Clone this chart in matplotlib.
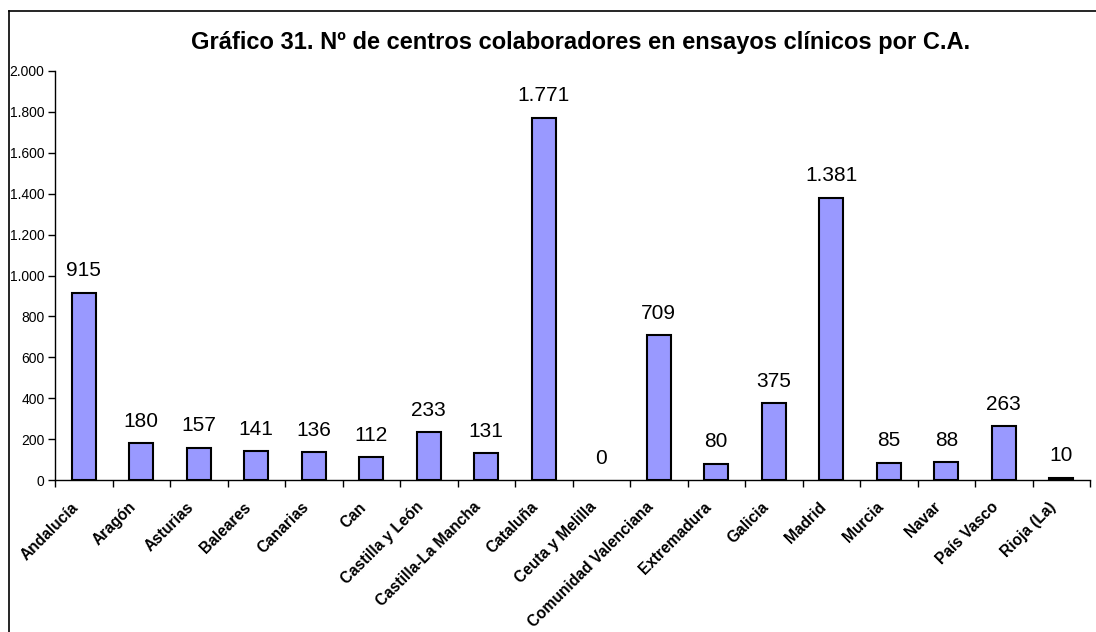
import matplotlib
matplotlib.use("Agg")
import matplotlib.pyplot as plt
from matplotlib.lines import Line2D
from matplotlib.ticker import FuncFormatter, MultipleLocator
from matplotlib.transforms import ScaledTranslation

regions = ['Andalucía', 'Aragón', 'Asturias', 'Baleares', 'Canarias', 'Can',
           'Castilla y León', 'Castilla-La Mancha', 'Cataluña', 'Ceuta y Melilla',
           'Comunidad Valenciana', 'Extremadura', 'Galicia', 'Madrid', 'Murcia',
           'Navar', 'País Vasco', 'Rioja (La)']
centres = [915, 180, 157, 141, 136, 112, 233, 131, 1771, 0,
           709, 80, 375, 1381, 85, 88, 263, 10]
title = 'Gráfico 31. Nº de centros colaboradores en ensayos clínicos por C.A.'

plt.rcParams['font.family'] = ['Liberation Sans', 'DejaVu Sans']

W, H = 1096, 632
fig = plt.figure(figsize=(W / 100, H / 100), dpi=100)
ax = fig.add_axes([55 / W, 1 - 480 / H, (1090 - 55) / W, (480 - 71) / H])

x = list(range(len(regions)))
widths = [0 if v == 0 else 1.5 for v in centres]
ax.bar(x, centres, width=0.42, color='#9999ff', edgecolor='black',
       linewidth=widths, zorder=3)

for xi, v in zip(x, centres):
    ax.annotate(f'{v:,}'.replace(',', '.'), (xi, v), xytext=(0, 9),
                textcoords='offset points', ha='center', va='bottom',
                fontsize=15)

ax.set_xlim(-0.5, len(regions) - 0.5)
ax.set_ylim(0, 2000)
ax.yaxis.set_major_locator(MultipleLocator(200))
ax.yaxis.set_major_formatter(FuncFormatter(lambda v, p: f'{int(v):,}'.replace(',', '.')))
ax.tick_params(axis='y', labelsize=10, length=5, width=1, direction='out', pad=2.5)

ax.set_xticks(x)
ax.set_xticklabels(regions, rotation=45, ha='right', rotation_mode='anchor',
                   fontsize=11.2, fontweight='bold')
ax.set_xticks([i - 0.5 for i in range(len(regions) + 1)], minor=True)
ax.tick_params(axis='x', which='major', length=0, pad=14)
ax.tick_params(axis='x', which='minor', length=5, width=1, direction='out')

# excel puts the end of the rotated label a bit left of the bar
shift = ScaledTranslation(-13 / 100, 0, fig.dpi_scale_trans)
for lbl in ax.get_xticklabels():
    lbl.set_transform(lbl.get_transform() + shift)

for s in ['top', 'right']:
    ax.spines[s].set_visible(False)
ax.spines['left'].set_linewidth(1)
ax.spines['bottom'].set_linewidth(1)

fig.text(581 / W, 1 - 43 / H, title, ha='center', va='center',
         fontsize=17, fontweight='bold')

# chart frame, it runs off the right and bottom edge
fig.add_artist(Line2D([8.5 / W, 8.5 / W], [-0.1, 1 - 11 / H], color='black',
                      linewidth=1.2, transform=fig.transFigure))
fig.add_artist(Line2D([8.5 / W, 1.1], [1 - 11 / H, 1 - 11 / H], color='black',
                      linewidth=1.2, transform=fig.transFigure))

fig.savefig('out.png', dpi=100)
